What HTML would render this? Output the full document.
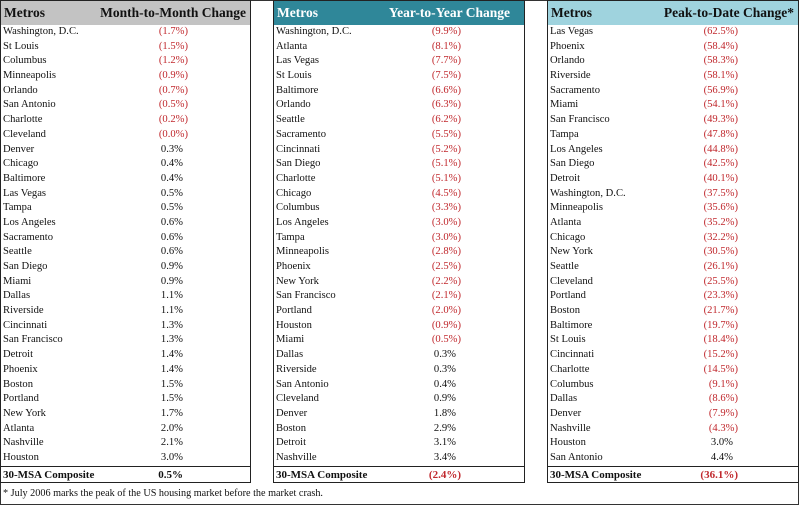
<!DOCTYPE html>
<html><head><meta charset="utf-8"><style>
*{margin:0;padding:0;box-sizing:border-box}
body{width:800px;height:505px;background:#fff;font-family:"Liberation Serif",serif;color:#111;position:relative;overflow:hidden}
.frame{position:absolute;left:0;top:0;width:799px;height:505px;border:1.5px solid #333}
.t{position:absolute;top:0;height:483px;border:1.5px solid #222;background:#fff}
.h{height:24px;font-weight:bold;font-size:13.5px;line-height:24px;position:relative}
.h span{position:absolute}
.r{height:14.7px;line-height:14.7px;font-size:10.6px;position:relative;white-space:nowrap}
.r .n{position:absolute;left:2px}
.r .v{position:absolute;text-align:right}
.neg{color:#c0282d}
.pos{padding-right:5px}
.c{position:absolute;left:0;right:0;top:465px;height:17px;border-top:1.5px solid #222;font-weight:bold;font-size:11px;line-height:16px}
.c .n{position:absolute;left:2px}
.c .v{position:absolute;text-align:right}
.t1 .v{right:62px}
.t2 .v{right:63px}
.t3 .v{right:60px}
.foot{position:absolute;left:3px;top:488px;font-size:10.2px}
</style></head><body>
<div class="frame"></div>
<div class="t t1" style="left:0;width:251px">
<div class="h" style="background:#c3c3c3"><span style="left:3px">Metros</span><span style="right:4px">Month-to-Month Change</span></div>
<div class="r"><span class="n">Washington, D.C.</span><span class="v neg">(1.7%)</span></div>
<div class="r"><span class="n">St Louis</span><span class="v neg">(1.5%)</span></div>
<div class="r"><span class="n">Columbus</span><span class="v neg">(1.2%)</span></div>
<div class="r"><span class="n">Minneapolis</span><span class="v neg">(0.9%)</span></div>
<div class="r"><span class="n">Orlando</span><span class="v neg">(0.7%)</span></div>
<div class="r"><span class="n">San Antonio</span><span class="v neg">(0.5%)</span></div>
<div class="r"><span class="n">Charlotte</span><span class="v neg">(0.2%)</span></div>
<div class="r"><span class="n">Cleveland</span><span class="v neg">(0.0%)</span></div>
<div class="r"><span class="n">Denver</span><span class="v pos">0.3%</span></div>
<div class="r"><span class="n">Chicago</span><span class="v pos">0.4%</span></div>
<div class="r"><span class="n">Baltimore</span><span class="v pos">0.4%</span></div>
<div class="r"><span class="n">Las Vegas</span><span class="v pos">0.5%</span></div>
<div class="r"><span class="n">Tampa</span><span class="v pos">0.5%</span></div>
<div class="r"><span class="n">Los Angeles</span><span class="v pos">0.6%</span></div>
<div class="r"><span class="n">Sacramento</span><span class="v pos">0.6%</span></div>
<div class="r"><span class="n">Seattle</span><span class="v pos">0.6%</span></div>
<div class="r"><span class="n">San Diego</span><span class="v pos">0.9%</span></div>
<div class="r"><span class="n">Miami</span><span class="v pos">0.9%</span></div>
<div class="r"><span class="n">Dallas</span><span class="v pos">1.1%</span></div>
<div class="r"><span class="n">Riverside</span><span class="v pos">1.1%</span></div>
<div class="r"><span class="n">Cincinnati</span><span class="v pos">1.3%</span></div>
<div class="r"><span class="n">San Francisco</span><span class="v pos">1.3%</span></div>
<div class="r"><span class="n">Detroit</span><span class="v pos">1.4%</span></div>
<div class="r"><span class="n">Phoenix</span><span class="v pos">1.4%</span></div>
<div class="r"><span class="n">Boston</span><span class="v pos">1.5%</span></div>
<div class="r"><span class="n">Portland</span><span class="v pos">1.5%</span></div>
<div class="r"><span class="n">New York</span><span class="v pos">1.7%</span></div>
<div class="r"><span class="n">Atlanta</span><span class="v pos">2.0%</span></div>
<div class="r"><span class="n">Nashville</span><span class="v pos">2.1%</span></div>
<div class="r"><span class="n">Houston</span><span class="v pos">3.0%</span></div>
<div class="c"><span class="n">30-MSA Composite</span><span class="v pos">0.5%</span></div>
</div>
<div class="t t2" style="left:273px;width:252px">
<div class="h" style="background:#2f8799;color:#fff"><span style="left:3px">Metros</span><span style="right:14px">Year-to-Year Change</span></div>
<div class="r"><span class="n">Washington, D.C.</span><span class="v neg">(9.9%)</span></div>
<div class="r"><span class="n">Atlanta</span><span class="v neg">(8.1%)</span></div>
<div class="r"><span class="n">Las Vegas</span><span class="v neg">(7.7%)</span></div>
<div class="r"><span class="n">St Louis</span><span class="v neg">(7.5%)</span></div>
<div class="r"><span class="n">Baltimore</span><span class="v neg">(6.6%)</span></div>
<div class="r"><span class="n">Orlando</span><span class="v neg">(6.3%)</span></div>
<div class="r"><span class="n">Seattle</span><span class="v neg">(6.2%)</span></div>
<div class="r"><span class="n">Sacramento</span><span class="v neg">(5.5%)</span></div>
<div class="r"><span class="n">Cincinnati</span><span class="v neg">(5.2%)</span></div>
<div class="r"><span class="n">San Diego</span><span class="v neg">(5.1%)</span></div>
<div class="r"><span class="n">Charlotte</span><span class="v neg">(5.1%)</span></div>
<div class="r"><span class="n">Chicago</span><span class="v neg">(4.5%)</span></div>
<div class="r"><span class="n">Columbus</span><span class="v neg">(3.3%)</span></div>
<div class="r"><span class="n">Los Angeles</span><span class="v neg">(3.0%)</span></div>
<div class="r"><span class="n">Tampa</span><span class="v neg">(3.0%)</span></div>
<div class="r"><span class="n">Minneapolis</span><span class="v neg">(2.8%)</span></div>
<div class="r"><span class="n">Phoenix</span><span class="v neg">(2.5%)</span></div>
<div class="r"><span class="n">New York</span><span class="v neg">(2.2%)</span></div>
<div class="r"><span class="n">San Francisco</span><span class="v neg">(2.1%)</span></div>
<div class="r"><span class="n">Portland</span><span class="v neg">(2.0%)</span></div>
<div class="r"><span class="n">Houston</span><span class="v neg">(0.9%)</span></div>
<div class="r"><span class="n">Miami</span><span class="v neg">(0.5%)</span></div>
<div class="r"><span class="n">Dallas</span><span class="v pos">0.3%</span></div>
<div class="r"><span class="n">Riverside</span><span class="v pos">0.3%</span></div>
<div class="r"><span class="n">San Antonio</span><span class="v pos">0.4%</span></div>
<div class="r"><span class="n">Cleveland</span><span class="v pos">0.9%</span></div>
<div class="r"><span class="n">Denver</span><span class="v pos">1.8%</span></div>
<div class="r"><span class="n">Boston</span><span class="v pos">2.9%</span></div>
<div class="r"><span class="n">Detroit</span><span class="v pos">3.1%</span></div>
<div class="r"><span class="n">Nashville</span><span class="v pos">3.4%</span></div>
<div class="c"><span class="n">30-MSA Composite</span><span class="v neg">(2.4%)</span></div>
</div>
<div class="t t3" style="left:547px;width:252px">
<div class="h" style="background:#9fd3de"><span style="left:3px">Metros</span><span style="right:4px">Peak-to-Date Change*</span></div>
<div class="r"><span class="n">Las Vegas</span><span class="v neg">(62.5%)</span></div>
<div class="r"><span class="n">Phoenix</span><span class="v neg">(58.4%)</span></div>
<div class="r"><span class="n">Orlando</span><span class="v neg">(58.3%)</span></div>
<div class="r"><span class="n">Riverside</span><span class="v neg">(58.1%)</span></div>
<div class="r"><span class="n">Sacramento</span><span class="v neg">(56.9%)</span></div>
<div class="r"><span class="n">Miami</span><span class="v neg">(54.1%)</span></div>
<div class="r"><span class="n">San Francisco</span><span class="v neg">(49.3%)</span></div>
<div class="r"><span class="n">Tampa</span><span class="v neg">(47.8%)</span></div>
<div class="r"><span class="n">Los Angeles</span><span class="v neg">(44.8%)</span></div>
<div class="r"><span class="n">San Diego</span><span class="v neg">(42.5%)</span></div>
<div class="r"><span class="n">Detroit</span><span class="v neg">(40.1%)</span></div>
<div class="r"><span class="n">Washington, D.C.</span><span class="v neg">(37.5%)</span></div>
<div class="r"><span class="n">Minneapolis</span><span class="v neg">(35.6%)</span></div>
<div class="r"><span class="n">Atlanta</span><span class="v neg">(35.2%)</span></div>
<div class="r"><span class="n">Chicago</span><span class="v neg">(32.2%)</span></div>
<div class="r"><span class="n">New York</span><span class="v neg">(30.5%)</span></div>
<div class="r"><span class="n">Seattle</span><span class="v neg">(26.1%)</span></div>
<div class="r"><span class="n">Cleveland</span><span class="v neg">(25.5%)</span></div>
<div class="r"><span class="n">Portland</span><span class="v neg">(23.3%)</span></div>
<div class="r"><span class="n">Boston</span><span class="v neg">(21.7%)</span></div>
<div class="r"><span class="n">Baltimore</span><span class="v neg">(19.7%)</span></div>
<div class="r"><span class="n">St Louis</span><span class="v neg">(18.4%)</span></div>
<div class="r"><span class="n">Cincinnati</span><span class="v neg">(15.2%)</span></div>
<div class="r"><span class="n">Charlotte</span><span class="v neg">(14.5%)</span></div>
<div class="r"><span class="n">Columbus</span><span class="v neg">(9.1%)</span></div>
<div class="r"><span class="n">Dallas</span><span class="v neg">(8.6%)</span></div>
<div class="r"><span class="n">Denver</span><span class="v neg">(7.9%)</span></div>
<div class="r"><span class="n">Nashville</span><span class="v neg">(4.3%)</span></div>
<div class="r"><span class="n">Houston</span><span class="v pos">3.0%</span></div>
<div class="r"><span class="n">San Antonio</span><span class="v pos">4.4%</span></div>
<div class="c"><span class="n">30-MSA Composite</span><span class="v neg">(36.1%)</span></div>
</div>
<div class="foot">* July 2006 marks the peak of the US housing market before the market crash.</div>
</body></html>
